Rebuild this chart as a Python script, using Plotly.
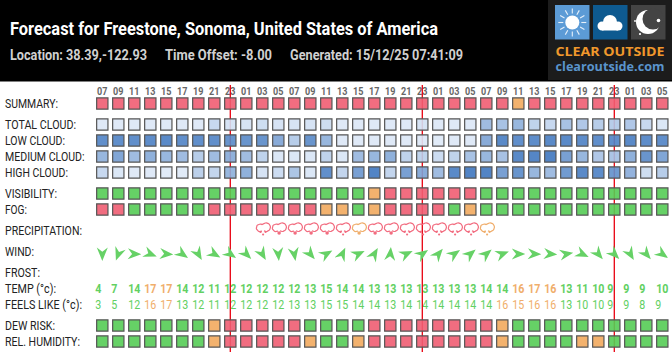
import json
import numpy as np
import plotly.graph_objects as go

W, H = 672, 352
HOURS = ["07","09","11","13","15","17","19","21","23","01","03","05"] * 3
MIDNIGHT_COLS = [8, 20, 32]

TITLE = "Forecast for Freestone, Sonoma, United States of America"
LOCATION = "Location: 38.39,-122.93"
OFFSET = "Time Offset: -8.00"
GENERATED = "Generated: 15/12/25 07:41:09"

# status: 0 good (green), 1 marginal (orange), 2 bad (red)
summary    = [2]*26 + [1] + [2]*9
visibility = [0]*17 + [1] + [2]*6 + [0]*12
fog        = [2,2,0,0,0,0,0,2,2,2,2,2,2,2,1,1,0,1,2,2,2,2,0,1] + [0]*12
dew_risk   = [0]*7 + [1] + [2]*5 + [0]*4 + [2]*8 + [1] + [0]*10
humidity   = [0]*7 + [1] + [2]*5 + [1,0,0,1] + [2]*8 + [1,0,0,0,0,1,1,0,0,0,0]

# cloud cover, percent
total_cloud  = [10,10,10,10,10,10,10,25,15,15,20,15,15,15,20,10,10,10,10,10,15,10,10,10,50,45,55,30,25,45,40,35,35,40,25,12]
low_cloud    = [90,90,90,92,95,90,90,90,85,85,85,65,35,85,55,10,10,10,10,10,10,8,10,10,65,95,90,92,95,95,92,90,90,95,92,90]
medium_cloud = [55,70,50,60,55,50,35,50,60,50,30,12,12,12,30,12,50,55,60,30,30,22,30,45,55,45,95,98,100,75,55,40,42,60,85,70]
high_cloud   = [25,12,10,10,8,8,32,28,55,60,15,22,42,12,90,28,75,100,28,75,65,50,95,100,100,75,85,55,50,80,95,92,80,58,20,35]

# precipitation: first column index, then (status, drops) per column
precip_start  = 10
precip_status = [2,2,2,2,2,2,1,2,2,2,2,2,2,2,1]
precip_drops  = [3,1,1,1,1,3,1,1,1,3,3,3,3,3,3]

# wind: direction the arrow points, degrees clockwise from up
wind_dir = [180,200,92,112,95,125,150,120,125,135,150,175,170,140,60,25,65,30,5,65,55,40,55,50,50,70,90,92,95,80,115,140,135,150,140,125]

temp  = [4,7,14,17,17,14,12,11,12,12,12,12,12,13,15,14,14,13,13,13,13,13,13,13,14,14,16,17,16,13,11,10,9,9,9,10]
feels = [3,5,12,16,17,13,12,11,12,12,12,12,13,13,15,15,14,14,13,14,14,14,14,14,14,16,15,16,16,13,10,10,9,9,8,9]
temp_status  = [0,0,0,1,1] + [0]*21 + [1,1,1] + [0]*7
feels_status = [0,0,0,1,1] + [0]*20 + [1,1,1,1] + [0]*7

RED = "rgba(240,93,114,0.9)"
ORANGE = "rgba(242,170,94,0.9)"
GREEN = "rgba(85,204,85,0.9)"
STATUS = [GREEN, ORANGE, RED]
TXT = ["#62d062", "#f0ae6c", "#f26d80"]
CLOUD_SCALE = [[0, "rgba(236,243,252,0.9)"], [1, "rgba(63,119,191,0.9)"]]
BORDER = "#555555"

FONT = "Roboto"
PITCH, X0 = 16.0, 102.3
cols = np.arange(36)

def px(i):
    """pixel offset -> column units"""
    return i / PITCH

def col_of(p):
    return (p - X0) / PITCH

fig = go.Figure()

def centred(vals):
    return [c - (px(4) if len(str(v)) == 1 else 0) for c, v in zip(cols, vals)]

fig.add_trace(go.Scatter(x=cols, y=[92]*36, mode="text", text=HOURS,
                         textfont=dict(family=FONT, size=11, color="#666", weight="bold")))
fig.add_trace(go.Scatter(x=centred(temp), y=[289.5]*36, mode="text", text=[str(v) for v in temp],
                         textfont=dict(family=FONT, size=13, weight="bold", color=[TXT[s] for s in temp_status])))
fig.add_trace(go.Scatter(x=centred(feels), y=[306]*36, mode="text", text=[str(v) for v in feels],
                         textfont=dict(family=FONT, size=13, color=[TXT[s] for s in feels_status])))

# midnight lines
lx, ly = [], []
for c in MIDNIGHT_COLS:
    lx += [c, c, None]
    ly += [85, 352, None]
fig.add_trace(go.Scatter(x=lx, y=ly, mode="lines", line=dict(color="#e8000f", width=1.3)))

def status_row(y, vals):
    fig.add_trace(go.Scatter(x=cols, y=[y]*36, mode="markers",
        marker=dict(symbol="square", size=11.3, color=[STATUS[v] for v in vals],
                    line=dict(color=BORDER, width=1.2))))

def cloud_row(y, vals):
    fig.add_trace(go.Scatter(x=cols, y=[y]*36, mode="markers",
        marker=dict(symbol="square", size=11.3, color=vals, cmin=0, cmax=100, colorscale=CLOUD_SCALE,
                    showscale=False, line=dict(color=BORDER, width=1.2))))

status_row(103.5, summary)
cloud_row(124.5, total_cloud)
cloud_row(140.5, low_cloud)
cloud_row(156.5, medium_cloud)
cloud_row(172.5, high_cloud)
status_row(193.5, visibility)
status_row(209.5, fog)
status_row(325.5, dew_risk)
status_row(341.5, humidity)

# precipitation icons
def arc(cx, cy, r, a0, a1):
    t = np.radians(np.linspace(a0, a1, 18))
    return list(cx + r*np.cos(t)), list(cy + r*np.sin(t))

PY = 227.5
for k, (st, dr) in enumerate(zip(precip_status, precip_drops)):
    c = precip_start + k
    col = TXT[st]
    ax1, ay1 = arc(-3, 0.3, 3.8, 60, 300)
    ax2, ay2 = arc(3, -0.3, 4.3, 230, 480)
    ox = [c + px(0.8 + v) for v in ax1 + ax2]
    oy = [PY + v for v in ay1 + ay2]
    fig.add_trace(go.Scatter(x=ox, y=oy, mode="lines", line=dict(color=col, width=1.2)))
    if dr == 1:
        dx, dy, s = [c + px(0.8)], [PY + 5.5], 3.5
    else:
        dx, dy, s = [c + px(-1.7), c + px(3.3), c + px(0.8)], [PY + 4.5, PY + 4.5, PY + 7], 2.2
    fig.add_trace(go.Scatter(x=dx, y=dy, mode="markers", marker=dict(color=col, size=s)))

# wind darts, built from direction
dart_x = np.array([0, -5.5, 0, 5.5, 0], float)
dart_y = np.array([-7, 6.5, 2.2, 6.5, -7], float)
wx, wy = [], []
for c, d in zip(cols, wind_dir):
    a = np.radians(d)
    wx += list(c + px(dart_x*np.cos(a) - dart_y*np.sin(a))) + [None]
    wy += list(254 + dart_x*np.sin(a) + dart_y*np.cos(a)) + [None]
fig.add_trace(go.Scatter(x=wx, y=wy, mode="lines", fill="toself", fillcolor="#66d166",
                         line=dict(width=0, color="#66d166")))

shapes = []
def X(p): return p / W
def Y(p): return 1 - p / H
def rect(x0, y0, x1, y1, c):
    shapes.append(dict(type="rect", xref="paper", yref="paper", x0=X(x0), x1=X(x1), y0=Y(y0), y1=Y(y1),
                       fillcolor=c, line_width=0, layer="below"))
def circ(cx, cy, r, c):
    shapes.append(dict(type="circle", xref="paper", yref="paper", x0=X(cx-r), x1=X(cx+r), y0=Y(cy-r), y1=Y(cy+r),
                       fillcolor=c, line_width=0, layer="below"))
def seg(x0, y0, x1, y1, c, w):
    shapes.append(dict(type="line", xref="paper", yref="paper", x0=X(x0), x1=X(x1), y0=Y(y0), y1=Y(y1),
                       line=dict(color=c, width=w), layer="below"))
def text(x, y, s, size, color, family=FONT, bold=False):
    fig.add_trace(go.Scatter(x=[col_of(x)], y=[y], mode="text", text=[s], textposition="middle right",
                             textfont=dict(family=family, size=size, color=color,
                                           weight="bold" if bold else "normal")))

# header
rect(0, 0, W, 81.5, "#000")
rect(548, 0, W, 80, "#1c1c1c")
rect(555, 5, 589.5, 39.5, "#5c9bd6")
rect(593, 5, 627.5, 39.5, "#0e5a90")
rect(631, 5, 665.5, 39.5, "#444444")
# sun
SX, SY = 572.3, 22.5
for ang in range(0, 360, 30):
    a = np.radians(ang)
    seg(SX + 9*np.cos(a), SY + 9*np.sin(a), SX + 14*np.cos(a), SY + 14*np.sin(a), "#e6f0fa", 1.1)
circ(SX, SY, 7, "#ffffff")
# cloud
for cx, cy, r in [(602, 26, 4.5), (610, 22, 7), (618, 26, 4.5)]:
    circ(cx, cy, r, "#ffffff")
rect(602, 26, 618, 30.5, "#ffffff")
# moon
circ(648, 22, 12, "#ffffff")
circ(653, 19, 10.5, "#444444")
for cx, cy, r in [(658.5, 20.5, 1.8), (635, 21, 0.9), (640, 34, 1.1)]:
    circ(cx, cy, r, "#ffffff")

text(10, 30, TITLE, 18.5, "#ffffff", bold=True)
text(10, 56, LOCATION, 14.5, "#d0d0d0", bold=True)
text(165, 56, OFFSET, 14.5, "#d0d0d0", bold=True)
text(290, 56, GENERATED, 14.5, "#d0d0d0", bold=True)
text(555.5, 52.5, "CLEAR OUTSIDE", 13, "#f0982c", family="Open Sans", bold=True)
text(555.5, 68.5, "clearoutside.com", 11.5, "#5a94cc", family="Open Sans", bold=True)

rows = [("SUMMARY:",105,53),("TOTAL CLOUD:",126,71),("LOW CLOUD:",142,60),("MEDIUM CLOUD:",158,79.5),("HIGH CLOUD:",174,63),
        ("VISIBILITY:",195,52),("FOG:",211,22),("PRECIPITATION:",232,77),("WIND:",253,29),("FROST:",273.5,35),
        ("TEMP (°c):",290,51),("FEELS LIKE (°c):",306,77),("DEW RISK:",327,50),("REL. HUMIDITY:",343,75)]
for s, y, _w in rows:
    text(5, y, s, 12.5, "#222222")

fig.update_layout(
    width=W, height=H, margin=dict(l=0, r=0, t=0, b=0), showlegend=False,
    paper_bgcolor="#fff", plot_bgcolor="#fff", hovermode=False,
    xaxis=dict(visible=False, range=[-X0/PITCH, (W - X0)/PITCH], fixedrange=True),
    yaxis=dict(visible=False, range=[H, 0], fixedrange=True),
    shapes=shapes,
)

# Roboto stands in for the reference's condensed face: fit each string to its measured width.
targets = {TITLE: 428, LOCATION: 137, OFFSET: 107, GENERATED: 173, "CLEAR OUTSIDE": 109, "clearoutside.com": 109}
targets.update({s: w for s, _y, w in rows})
post = """
document.body.style.margin='0';
var T = %s;
document.querySelectorAll('svg text').forEach(function(t){
  var s = t.textContent;
  var w = t.getComputedTextLength();
  var target = (s in T) ? T[s] : w*0.82;
  t.setAttribute('lengthAdjust','spacingAndGlyphs');
  t.setAttribute('textLength', target);
});
""" % json.dumps(targets)
fig.write_html("out.html", config=dict(displayModeBar=False), post_script=post)
